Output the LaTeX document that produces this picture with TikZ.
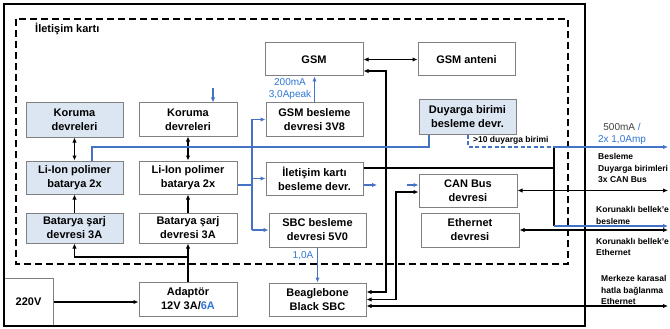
\documentclass[tikz,border=0pt]{standalone}
\usepackage{fontspec}
\setmainfont{Liberation Sans}
\usetikzlibrary{arrows.meta,calc}
\definecolor{bfill}{RGB}{220,229,242}
\definecolor{bgray}{RGB}{128,128,128}
\definecolor{bline}{RGB}{68,114,196}
\definecolor{btext}{RGB}{46,117,214}
\definecolor{dtext}{RGB}{64,64,64}
\begin{document}
\begin{tikzpicture}[x=1pt,y=-1pt,
  box/.style={draw=bgray, line width=1pt, fill=white, align=center, inner sep=0pt,
    font=\bfseries\fontsize{11}{14}\selectfont},
  bluebox/.style={box, fill=bfill},
  conn/.style={line width=1.3pt, black},
  arr/.style={conn, -{Latex[length=5pt,width=4.5pt]}},
  darr/.style={conn, {Latex[length=5pt,width=4.5pt]}-{Latex[length=5pt,width=4.5pt]}},
  bconn/.style={line width=1.2pt, bline},
  barr/.style={bconn, -{Latex[length=5pt,width=4.5pt]}},
  lbl/.style={font=\fontsize{10}{12}\selectfont, text=btext, inner sep=0pt, align=center},
  rlbl/.style={font=\bfseries\fontsize{8.5}{11.5}\selectfont, anchor=west, align=left, inner sep=0pt}]
\useasboundingbox (0,0) rectangle (670,329);
\fill[white] (0,0) rectangle (670,329);

% 220V box and frame
\node[box, minimum width=49pt, minimum height=48pt] (v220) at (28.5,302) {220V};
\draw[line width=2pt] (4,4) rectangle (585,326);
\draw[line width=1.6pt, dash pattern=on 7pt off 4pt] (16,19) rectangle (568,264);
\node[font=\bfseries\fontsize{11}{13}\selectfont, anchor=west, inner sep=0pt] (title) at (35,29) {İletişim kartı};

% boxes
\node[bluebox, minimum width=97pt, minimum height=34pt] (kor1) at (74.5,120) {Koruma\\devreleri};
\node[box, minimum width=98pt, minimum height=33pt] (kor2) at (188,119.5) {Koruma\\devreleri};
\node[bluebox, minimum width=97pt, minimum height=33pt] (li1) at (74.5,177.5) {Li-Ion polimer\\batarya 2x};
\node[box, minimum width=98pt, minimum height=33pt] (li2) at (188,177.5) {Li-Ion polimer\\batarya 2x};
\node[bluebox, minimum width=97pt, minimum height=30pt] (sa1) at (74.5,228) {Batarya şarj\\devresi 3A};
\node[box, minimum width=98pt, minimum height=30pt] (sa2) at (188,228) {Batarya şarj\\devresi 3A};
\node[box, minimum width=98pt, minimum height=34pt] (adap) at (188,299) {Adaptör\\12V 3A/\textcolor{btext}{6A}};
\node[box, minimum width=98pt, minimum height=33pt] (gsm) at (314,59.5) {GSM};
\node[box, minimum width=97pt, minimum height=33pt] (ant) at (466.5,59.5) {GSM anteni};
\node[box, minimum width=97pt, minimum height=33pt] (gsmb) at (314.5,119.5) {GSM besleme\\devresi 3V8};
\node[bluebox, minimum width=97pt, minimum height=34pt] (duy) at (467.5,117) {Duyarga birimi\\besleme devr.};
\node[box, minimum width=97pt, minimum height=33pt] (ilb) at (314.5,178.5) {İletişim kartı\\besleme devr.};
\node[box, minimum width=98pt, minimum height=33pt] (can) at (468,190.5) {CAN Bus\\devresi};
\node[box, minimum width=98pt, minimum height=34pt] (eth) at (470,230) {Ethernet\\devresi};
\node[box, minimum width=97pt, minimum height=34pt] (sbc) at (317.5,230) {SBC besleme\\devresi 5V0};
\node[box, minimum width=97pt, minimum height=33pt] (bbb) at (317.5,299.5) {Beaglebone\\Black SBC};

% coordinates
\coordinate (j1) at (188,257);
\coordinate (ka) at (213,88);
\coordinate (b1) at (92,147);
\coordinate (b2) at (429,147);
\coordinate (bv) at (252,185);
\coordinate (k1) at (386,71);
\coordinate (k2) at (386,292);
\coordinate (k3) at (396,192);
\coordinate (k4) at (396,299.5);
\coordinate (rx) at (668,0);
\coordinate (r3) at (668,306);
\coordinate (k5) at (554,168);
\coordinate (k6) at (554,147);
\coordinate (k7) at (554,226);
\coordinate (d1) at (468,147);
\coordinate (s1) at (377,185);
\coordinate (s2) at (407,185);

% black connectors
\draw[arr] (v220.east) -- (v220.east -| adap.west);
\draw[conn] (adap.north) -- (j1);
\draw[arr] (j1) -- (sa2.south);
\draw[arr] (j1) -| (sa1.south);
\draw[arr] (sa1.north) -- (li1.south);
\draw[arr] (sa2.north) -- (li2.south);
\draw[darr] (li1.north) -- (kor1.south);
\draw[darr] (li2.north) -- (kor2.south);
\draw[darr] (gsm.east) -- (ant.west);
\draw[darr] (k1 -| gsm.east) -- (k1) -- (k2) -- (k2 -| bbb.east);
\draw[darr] (k3 -| can.west) -- (k3) -- (k4) -- (bbb.east);
\draw[darr] (can.east) -- (can.east -| rx);
\draw[darr] (eth.east) -- (eth.east -| rx);
\draw[darr] (r3 -| bbb.east) -- (r3);
\draw[conn] (k5 -| ilb.east) -- (k5);
\draw[conn] (k6) -- (k7);

% blue connectors
\draw[barr] (ka) -- (ka |- kor2.north);
\draw[bconn] (b1 |- li1.north) -- (b1) -- (b2) -- (b2 |- duy.south);
\draw[bconn] (bv -| li2.east) -- (bv);
\draw[bconn] (gsmb.west -| bv) -- (sbc.west -| bv);
\draw[barr] (gsmb.west -| bv) -- (gsmb.west);
\draw[barr] (ilb.west -| bv) -- (ilb.west);
\draw[barr] (sbc.west -| bv) -- (sbc.west);
\draw[barr] (gsmb.north) -- (gsmb.north |- gsm.south);
\draw[barr] (sbc.south) -- (sbc.south |- bbb.north);
\draw[barr] (s1 -| ilb.east) -- (s1);
\draw[barr] (s2) -- (s2 -| can.west);
\draw[bconn, dash pattern=on 4pt off 2.5pt] (d1 |- duy.south) -- (d1) -- (k6);
\draw[barr] (k6) -- (k6 -| rx);
\draw[barr] (k7) -- (k7 -| rx);

% labels
\node[lbl] (lg) at (290,89.5) {200mA\\3,0Apeak};
\node[lbl] (la) at (303,256) {1,0A};
\node[font=\bfseries\fontsize{8.5}{10}\selectfont, anchor=west, inner sep=0pt] (l10) at (473,140) {>10 duyarga birimi};
\node[lbl, font=\fontsize{10}{12}\selectfont] (lamp) at (622,134) {\textcolor{dtext}{500mA} /\\2x 1,0Amp};
\node[rlbl] (r1) at (598,168) {Besleme\\Duyarga birimleri\\3x CAN Bus};
\node[rlbl] (r2) at (596,215.5) {Korunaklı bellek'e\\besleme};
\node[rlbl] (r3l) at (596,247) {Korunaklı bellek'e\\Ethernet};
\node[rlbl] (r4) at (601,290) {Merkeze karasal\\hatla bağlanma\\Ethernet};
\end{tikzpicture}
\end{document}
